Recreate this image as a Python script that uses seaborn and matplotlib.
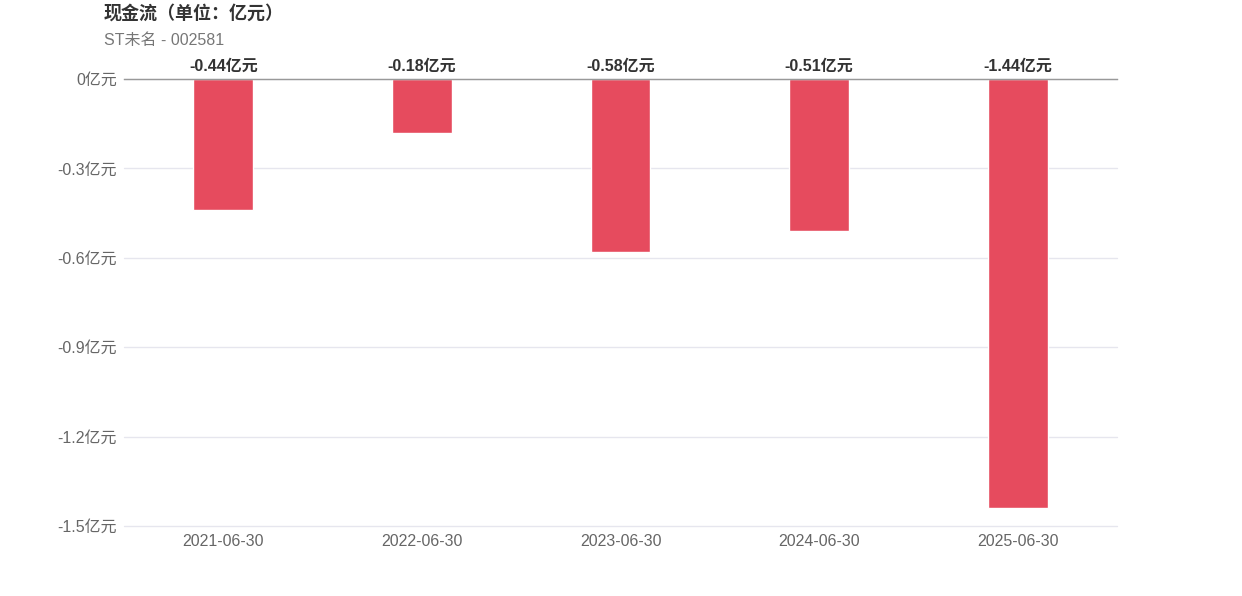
import matplotlib

matplotlib.use("Agg")

import matplotlib.pyplot as plt
import pandas as pd
import seaborn as sns

dates = ["2021-06-30", "2022-06-30", "2023-06-30", "2024-06-30", "2025-06-30"]
cash_flow = [-0.44, -0.18, -0.58, -0.51, -1.44]
y_ticks = [0, -0.3, -0.6, -0.9, -1.2, -1.5]
y_tick_labels = ["0亿元", "-0.3亿元", "-0.6亿元", "-0.9亿元", "-1.2亿元", "-1.5亿元"]

sns.set_theme(style="white")
plt.rcParams["font.family"] = ["Liberation Sans", "Noto Sans CJK SC", "DejaVu Sans"]

data = pd.DataFrame({"date": dates, "value": cash_flow})

fig = plt.figure(figsize=(12.42, 5.96), dpi=100)
ax = fig.add_axes([0.0998, 0.1174, 0.7996, 0.75])

sns.barplot(data=data, x="date", y="value", color="#E64B5E", width=0.3,
            saturation=1, ax=ax)

ax.set_ylim(-1.5, 0)
ax.set_xlim(-0.5, len(dates) - 0.5)
ax.set_yticks(y_ticks)
ax.set_yticklabels(y_tick_labels)
ax.yaxis.grid(True, color="#E6E6EE", linewidth=1)
for line in ax.get_ygridlines():
    line.set_clip_on(False)
ax.set_axisbelow(True)
for side in ["left", "right", "bottom"]:
    ax.spines[side].set_visible(False)
ax.spines["top"].set_visible(True)
ax.spines["top"].set_color("#999999")
ax.spines["top"].set_linewidth(1)
ax.tick_params(axis="y", length=0, labelsize=11.5, labelcolor="#666666", pad=5)
ax.tick_params(axis="x", length=0, labelsize=11.5, labelcolor="#666666", pad=6)
ax.set_xlabel("")
ax.set_ylabel("")

for i, v in enumerate(cash_flow):
    ax.annotate(f"{v:.2f}亿元", xy=(i, 0), xytext=(0, 4), textcoords="offset points",
                ha="center", va="bottom", fontsize=11.5, fontweight="bold",
                color="#333333", annotation_clip=False)

fig.text(104 / 1242, 1 - 14 / 596, "现金流（单位：亿元）", fontsize=13, fontweight="bold",
         color="#333333", ha="left", va="center")
fig.text(104 / 1242, 1 - 40 / 596, "ST未名 - 002581", fontsize=11.5,
         color="#777777", ha="left", va="center")

fig.savefig("out.png", dpi=100)
plt.close(fig)
